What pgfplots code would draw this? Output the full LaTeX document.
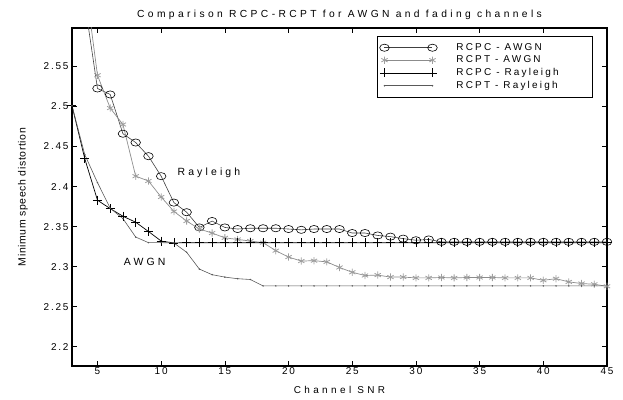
\documentclass[border=0pt]{standalone}
\usepackage{fontspec}
\setmainfont{Liberation Sans}
\usepackage{pgfplots}
\pgfplotsset{compat=1.18}
\usepackage{pgfplotstable}

\pgfplotstableread{
x y
3 2.75
4 2.63
5 2.5225
6 2.515
7 2.466
8 2.455
9 2.438
10 2.413
11 2.380
12 2.368
13 2.349
14 2.357
15 2.349
16 2.347
17 2.348
18 2.348
19 2.348
20 2.347
21 2.346
22 2.347
23 2.347
24 2.347
25 2.342
26 2.342
27 2.339
28 2.3375
29 2.335
30 2.333
31 2.334
32 2.331
33 2.331
34 2.331
35 2.331
36 2.331
37 2.331
38 2.331
39 2.331
40 2.331
41 2.331
42 2.331
43 2.331
44 2.331
45 2.331
}\rcpcawgn

\pgfplotstableread{
x y
3 2.80
4 2.66
5 2.539
6 2.498
7 2.4775
8 2.413
9 2.407
10 2.387
11 2.369
12 2.357
13 2.347
14 2.342
15 2.336
16 2.334
17 2.332
18 2.330
19 2.320
20 2.312
21 2.307
22 2.3075
23 2.306
24 2.299
25 2.293
26 2.289
27 2.2895
28 2.287
29 2.287
30 2.286
31 2.286
32 2.2865
33 2.286
34 2.2865
35 2.2865
36 2.2865
37 2.286
38 2.286
39 2.286
40 2.283
41 2.285
42 2.281
43 2.279
44 2.278
45 2.2755
}\rcptawgn

\pgfplotstableread{
x y
3 2.501
4 2.435
5 2.383
6 2.3725
7 2.363
8 2.3555
9 2.344
10 2.332
11 2.3296
12 2.330
13 2.330
14 2.330
15 2.330
16 2.330
17 2.330
18 2.330
19 2.330
20 2.330
21 2.330
22 2.330
23 2.330
24 2.330
25 2.330
26 2.330
27 2.330
28 2.330
29 2.330
30 2.330
31 2.330
32 2.330
33 2.330
34 2.330
35 2.330
36 2.330
37 2.330
38 2.330
39 2.330
40 2.330
41 2.330
42 2.330
43 2.330
44 2.330
45 2.330
}\rcpcray

\pgfplotstableread{
x y
3 2.501
4 2.44
5 2.405
6 2.373
7 2.360
8 2.337
9 2.330
10 2.330
11 2.3296
12 2.318
13 2.297
14 2.290
15 2.287
16 2.285
17 2.284
18 2.276
19 2.276
20 2.276
21 2.276
22 2.276
23 2.276
24 2.276
25 2.276
26 2.276
27 2.276
28 2.276
29 2.276
30 2.276
31 2.276
32 2.276
33 2.276
34 2.276
35 2.276
36 2.276
37 2.276
38 2.276
39 2.276
40 2.276
41 2.276
42 2.276
43 2.276
44 2.276
45 2.276
}\rcptray

\newcommand{\spaced}[2]{{\addfontfeature{LetterSpace=#1}#2}}

\begin{document}
\begin{tikzpicture}
\useasboundingbox (-72bp,-34bp) rectangle (551bp,366bp);
\begin{axis}[
  at={(0,0)}, anchor=south west,
  scale only axis, width=535bp, height=338bp,
  xmin=3, xmax=45, ymin=2.176, ymax=2.598,
  xtick={5,10,15,20,25,30,35,40,45},
  ytick={2.2,2.25,2.3,2.35,2.4,2.45,2.5,2.55},
  /pgf/number format/assume math mode=true,
  yticklabel style={/pgf/number format/fixed,/pgf/number format/precision=2},
  xticklabel style={yshift=2bp},
  tick label style={font=\fontsize{10}{12}\selectfont\addfontfeature{LetterSpace=18}},
  tick align=inside, major tick length=5bp,
  tick style={black, line width=0.6pt},
  axis line style={line width=1.3pt},
  title={\spaced{33}{Comparison RCPC-RCPT for AWGN and fading channels}},
  title style={font=\fontsize{10.3}{12}\selectfont, at={(rel axis cs:0.5,1)}, anchor=center, yshift=7bp},
  xlabel={\spaced{34}{Channel SNR}},
  xlabel style={font=\fontsize{10}{12}\selectfont, at={(rel axis cs:0.5,0)}, anchor=center, yshift=-24bp},
  ylabel={\spaced{6}{Minimum speech distortion}},
  ylabel style={font=\fontsize{10.5}{12}\selectfont, at={(rel axis cs:0,0.5)}, anchor=center, yshift=49bp},
  legend style={at={(rel axis cs:0.9738,0.9763)}, anchor=north east,
    font=\fontsize{10}{11}\selectfont\addfontfeature{LetterSpace=22}, draw=black, line width=1pt,
    row sep=4bp, inner xsep=2bp, inner ysep=7bp,
    nodes={inner sep=0pt, text width=134bp, align=left},
    /tikz/every odd column/.append style={column sep=17bp},
    cells={anchor=west}},
  legend image code/.code={\path[draw=none,fill=none] (-5bp,-4bp) rectangle (55bp,4bp);
     \draw[line width=0.6pt] plot coordinates {(0bp,0bp) (48bp,0bp)};},
]
\addplot[color=black!75, line width=0.6pt, mark=o, mark size=4bp,
  mark options={black, xscale=1.2, yscale=0.9, line width=0.6pt}] table {\rcpcawgn};
\addlegendentry{RCPC\, - \,AWGN}
\addplot[color=black!45, line width=0.7pt, mark=asterisk, mark size=3.6bp,
  mark options={black!38, line width=0.8pt}] table {\rcptawgn};
\addlegendentry{RCPT\, - \,AWGN}
\addplot[color=black, line width=0.7pt, mark=+, mark size=4.5bp,
  mark options={black, line width=0.7pt}] table {\rcpcray};
\addlegendentry{RCPC\, - \,Rayleigh}
\addplot[color=black!65, line width=0.6pt, mark=*, mark size=0.4bp] table {\rcptray};
\addlegendentry{RCPT\, - \,Rayleigh}
\node[font=\fontsize{10.5}{12}\selectfont] at (axis cs:13.75,2.4175) {\spaced{30}{Rayleigh}};
\node[font=\fontsize{10.5}{12}\selectfont] at (axis cs:8.7,2.306) {\spaced{30}{AWGN}};
\end{axis}
\end{tikzpicture}
\end{document}
